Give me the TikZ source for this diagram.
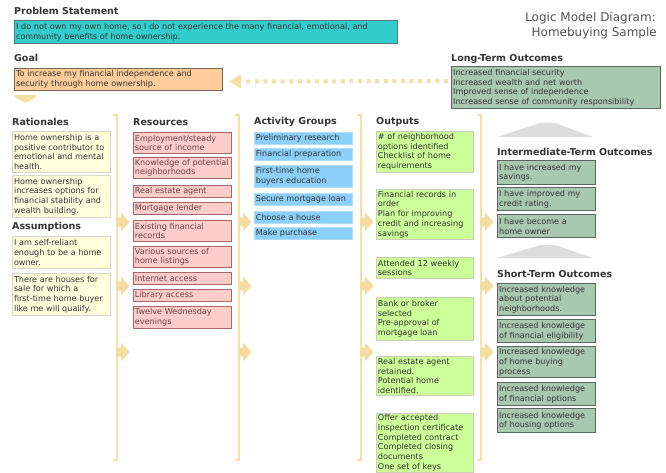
\documentclass[tikz,border=0pt]{standalone}
\usepackage{fontspec}
\setmainfont{DejaVu Sans}
\usetikzlibrary{calc,arrows.meta}

\definecolor{probfill}{HTML}{33CCCC}
\definecolor{probline}{HTML}{557777}
\definecolor{goalfill}{HTML}{FFCC99}
\definecolor{goalline}{HTML}{776655}
\definecolor{sagefill}{HTML}{A8C8B0}
\definecolor{sageline}{HTML}{5A665E}
\definecolor{ratfill}{HTML}{FFFFDD}
\definecolor{ratline}{HTML}{D8D8C8}
\definecolor{resfill}{HTML}{FFCCCC}
\definecolor{resline}{HTML}{A86868}
\definecolor{restext}{HTML}{664444}
\definecolor{actfill}{HTML}{8CCFFA}
\definecolor{actline}{HTML}{B0DDF8}
\definecolor{outfill}{HTML}{CCFF99}
\definecolor{outline}{HTML}{CCCCBB}
\definecolor{tanline}{HTML}{F5E0A8}
\definecolor{tanfill}{HTML}{F5DCA0}
\definecolor{headgray}{HTML}{333333}
\definecolor{boxtext}{HTML}{333333}
\definecolor{trapgray}{HTML}{DDDDDD}

\tikzset{
  box/.style={draw, line width=0.8pt, inner xsep=1.5pt, inner ysep=1pt,
    align=left, text=boxtext, font=\fontsize{8.1}{9.7}\selectfont},
  probbox/.style={box, fill=probfill, draw=probline, line width=1.1pt},
  goalbox/.style={box, fill=goalfill, draw=goalline, line width=1.1pt},
  sagebox/.style={box, fill=sagefill, draw=sageline, line width=1.3pt},
  ratbox/.style={box, fill=ratfill, draw=ratline, line width=1pt},
  resbox/.style={box, fill=resfill, draw=resline, text=restext},
  actbox/.style={box, fill=actfill, draw=actline},
  outbox/.style={box, fill=outfill, draw=outline},
  head/.style={anchor=west, inner sep=0pt, text=headgray,
    font=\fontsize{9.5}{11}\selectfont\bfseries},
  titletext/.style={anchor=east, inner sep=0pt, text=headgray!85,
    font=\fontsize{12}{14}\selectfont},
  bracket/.style={draw=tanline, line width=1.4pt},
  dotline/.style={draw=tanline, line width=4pt, dash pattern=on 4pt off 4.6pt,
    -{Triangle[length=12pt,width=13pt,fill=tanfill]}},
}

% box: style, name, x, y, width, height, text
\newcommand\bx[7]{%
  \pgfmathsetmacro\bxtw{#5-3}%
  \node[#1, anchor=north west, minimum width=#5pt, minimum height=#6pt,
        text width=\bxtw pt] (#2) at (#3,#4) {#7};}

% tan arrow leaving a bracket at (x,y)
\newcommand\tanarrow[2]{%
  \fill[tanfill] (#1,#2) ++(0,-4.5) -- ++(4,0) -- ++(0,-5) -- ++(8.5,9.5)
    -- ++(-8.5,9.5) -- ++(0,-5) -- ++(-4,0) -- cycle;}

\begin{document}
\begin{tikzpicture}[x=1pt,y=-1pt]
\fill[white] (0,0) rectangle (666,473);
\useasboundingbox (0,0) rectangle (666,473);

% title
\node[titletext] (title1) at (656,18) {Logic Model Diagram:};
\node[titletext] (title2) at (657,33) {Homebuying Sample};

% problem statement and goal
\node[head] (hprob) at (14,11) {Problem Statement};
\bx{probbox}{prob}{14}{20}{383}{23}{I do not own my own home, so I do not experience the many financial, emotional, and\\community benefits of home ownership.}

\node[head] (hgoal) at (14,58) {Goal};
\bx{goalbox}{goal}{14}{68}{208}{22}{To increase my financial independence and\\security through home ownership.}

% long-term outcomes
\node[head] (hlt) at (451,59) {Long-Term Outcomes};
\bx{sagebox}{lt}{451}{66}{209}{42}{Increased financial security\\Increased wealth and net worth\\Improved sense of independence\\Increased sense of community responsibility}

\draw[dotline] ($(lt.north west)+(-3,15)$) -- ($(goal.east)+(6,2)$);
\fill[tanfill] (15,95) -- (36,95) -- (36,97) -- (25.5,103) -- (15,97) -- cycle;

% rationales and assumptions
\node[head] (hrat) at (12,122) {Rationales};
\bx{ratbox}{rat1}{12}{131}{98}{41}{Home ownership is a\\positive contributor to\\emotional and mental\\health.}
\bx{ratbox}{rat2}{12}{175}{98}{42}{Home ownership\\increases options for\\financial stability and\\wealth building.}
\node[head] (hass) at (12,227) {Assumptions};
\bx{ratbox}{ass1}{12}{236}{98}{32}{I am self-reliant\\enough to be a home\\owner.}
\bx{ratbox}{ass2}{12}{273}{98}{42}{There are houses for\\sale for which a\\first-time home buyer\\like me will qualify.}

% resources
\node[head] (hres) at (133,122) {Resources};
\bx{resbox}{res1}{133}{132}{98}{21}{Employment/steady\\source of income}
\bx{resbox}{res2}{133}{157}{98}{21}{Knowledge of potential\\neighborhoods}
\bx{resbox}{res3}{133}{185}{98}{12}{Real estate agent}
\bx{resbox}{res4}{133}{202}{98}{12}{Mortgage lender}
\bx{resbox}{res5}{133}{220}{98}{21}{Existing financial\\records}
\bx{resbox}{res6}{133}{246}{98}{21}{Various sources of\\home listings}
\bx{resbox}{res7}{133}{272}{98}{12}{Internet access}
\bx{resbox}{res8}{133}{289}{98}{12}{Library access}
\bx{resbox}{res9}{133}{306}{98}{22}{Twelve Wednesday\\evenings}

% activity groups
\node[head] (hact) at (254,122) {Activity Groups};
\bx{actbox}{act1}{254}{132}{98}{12}{Preliminary research}
\bx{actbox}{act2}{254}{148}{98}{12}{Financial preparation}
\bx{actbox}{act3}{254}{165}{98}{22}{First-time home\\buyers education}
\bx{actbox}{act4}{254}{193}{98}{12}{Secure mortgage loan}
\bx{actbox}{act5}{254}{211}{98}{12}{Choose a house}
\bx{actbox}{act6}{254}{227}{98}{12}{Make purchase}

% outputs
\node[head] (hout) at (376,122) {Outputs};
\bx{outbox}{out1}{376}{131}{97}{41}{\# of neighborhood\\options identified\\Checklist of home\\requirements}
\bx{outbox}{out2}{376}{189}{97}{50}{Financial records in\\order\\Plan for improving\\credit and increasing\\savings}
\bx{outbox}{out3}{376}{257}{97}{21}{Attended 12 weekly\\sessions}
\bx{outbox}{out4}{376}{297}{97}{43}{Bank or broker\\selected\\Pre-approval of\\mortgage loan}
\bx{outbox}{out5}{376}{356}{97}{39}{Real estate agent\\retained.\\Potential home\\identified.}
\bx{outbox}{out6}{376}{413}{97}{59}{Offer accepted\\Inspection certificate\\Completed contract\\Completed closing\\documents\\One set of keys}

% intermediate-term outcomes
\fill[trapgray] (497,137) -- (540,123) -- (555,123) -- (593,137) -- cycle;
\node[head] (hint) at (497,152) {Intermediate-Term Outcomes};
\bx{sagebox}{int1}{497}{160}{98}{24}{I have increased my\\savings.}
\bx{sagebox}{int2}{497}{187}{98}{23}{I have improved my\\credit rating.}
\bx{sagebox}{int3}{497}{214}{98}{23}{I have become a\\home owner}

% short-term outcomes
\fill[trapgray] (497,258) -- (540,245) -- (555,245) -- (593,258) -- cycle;
\node[head] (hst) at (497,274) {Short-Term Outcomes};
\bx{sagebox}{st1}{497}{283}{98}{32}{Increased knowledge\\about potential\\neighborhoods.}
\bx{sagebox}{st2}{497}{319}{98}{23}{Increased knowledge\\of financial eligibility}
\bx{sagebox}{st3}{497}{346}{98}{31}{Increased knowledge\\of home buying\\process}
\bx{sagebox}{st4}{497}{382}{98}{23}{Increased knowledge\\of financial options}
\bx{sagebox}{st5}{497}{408}{98}{24}{Increased knowledge\\of housing options}

% brackets closing each column, with their arrows
\foreach \bxx in {117,239,361,481} {
  \draw[bracket] (\bxx-4,115) -- (\bxx,115) -- (\bxx,460) -- (\bxx-4,460);
  \tanarrow{\bxx}{222}
  \tanarrow{\bxx}{286}
  \tanarrow{\bxx}{352}
}
\end{tikzpicture}
\end{document}
